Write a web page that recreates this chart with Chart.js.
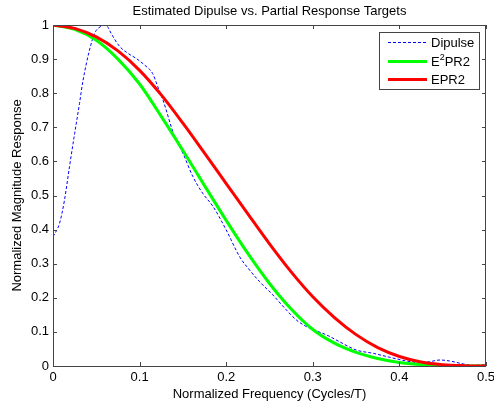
<!DOCTYPE html>
<html>
<head>
<meta charset="utf-8">
<script src="https://cdn.jsdelivr.net/npm/chart.js@4/dist/chart.umd.min.js"></script>
<style>
  body { margin: 0; background: #fff; }
  #wrap { width: 494px; height: 406px; }
</style>
</head>
<body>
<div id="wrap"><canvas id="response"></canvas></div>
<script>
// estimated dipulse at uneven steps
var dipulseFreq = [0, 0.0075, 0.0133, 0.019, 0.025, 0.0306, 0.0345, 0.042, 0.048, 0.0557, 0.0597, 0.063, 0.067, 0.077, 0.0865, 0.096, 0.106, 0.115, 0.121, 0.127, 0.1405, 0.15, 0.1616, 0.173, 0.185, 0.2, 0.2156, 0.227, 0.2387, 0.254, 0.2696, 0.281, 0.293, 0.304, 0.316, 0.331, 0.35, 0.37, 0.389, 0.408, 0.424, 0.435, 0.447, 0.458, 0.474, 0.485, 0.5];
var dipulseMag = [0.379, 0.418, 0.487, 0.584, 0.682, 0.77, 0.835, 0.925, 0.975, 0.997, 1.0, 0.995, 0.976, 0.937, 0.917, 0.902, 0.882, 0.858, 0.819, 0.78, 0.672, 0.624, 0.555, 0.506, 0.467, 0.399, 0.32, 0.2815, 0.247, 0.208, 0.164, 0.135, 0.115, 0.103, 0.091, 0.071, 0.047, 0.037, 0.0255, 0.0147, 0.01, 0.0127, 0.0176, 0.0147, 0.006, 0.002, 0.005];

// partial response targets, every 0.025 cycles/T
var targetFreq = [0, 0.025, 0.05, 0.075, 0.1, 0.125, 0.15, 0.175, 0.2, 0.225, 0.25, 0.275, 0.3, 0.325, 0.35, 0.375, 0.4, 0.425, 0.45, 0.475, 0.5];
var e2pr2Mag = [1, 0.987, 0.955, 0.9, 0.827, 0.732, 0.632, 0.529, 0.427, 0.33, 0.242, 0.167, 0.107, 0.067, 0.04, 0.022, 0.01, 0.004, 0.001, 0, 0];
var epr2Mag = [1, 0.99, 0.965, 0.924, 0.867, 0.795, 0.712, 0.624, 0.535, 0.446, 0.358, 0.276, 0.203, 0.142, 0.092, 0.054, 0.028, 0.012, 0.004, 0.001, 0];

var xTicks = [0, 0.1, 0.2, 0.3, 0.4, 0.5];
var yTicks = [0, 0.1, 0.2, 0.3, 0.4, 0.5, 0.6, 0.7, 0.8, 0.9, 1];

var titleText = 'Estimated Dipulse vs. Partial Response Targets';
var fontFamily = '"Liberation Sans", Arial, Helvetica, sans-serif';
var axisFont = { family: fontFamily, size: 13 };

function points(xs, ys) {
    return xs.map(function (x, i) { return { x: x, y: ys[i] }; });
}

// matlab style box with inward ticks on all four sides, title over the plot
var frame = {
    id: 'frame',
    afterDraw: function (chart) {
        var ctx = chart.ctx, a = chart.chartArea;
        var xs = chart.scales.x, ys = chart.scales.y;
        ctx.save();
        ctx.strokeStyle = '#444';
        ctx.lineWidth = 1;
        ctx.beginPath();
        xTicks.forEach(function (v) {
            var px = Math.round(xs.getPixelForValue(v)) + 0.5;
            ctx.moveTo(px, a.bottom); ctx.lineTo(px, a.bottom - 4);
            ctx.moveTo(px, a.top); ctx.lineTo(px, a.top + 4);
        });
        yTicks.forEach(function (v) {
            var py = Math.round(ys.getPixelForValue(v)) + 0.5;
            ctx.moveTo(a.left, py); ctx.lineTo(a.left + 4, py);
            ctx.moveTo(a.right, py); ctx.lineTo(a.right - 4, py);
        });
        ctx.stroke();
        ctx.strokeRect(Math.round(a.left) + 0.5, Math.round(a.top) + 0.5,
            Math.round(a.right - a.left) - 1, Math.round(a.bottom - a.top));

        ctx.fillStyle = '#000';
        ctx.font = '13px ' + fontFamily;
        ctx.textAlign = 'center';
        ctx.textBaseline = 'middle';
        ctx.fillText(titleText, (a.left + a.right) / 2, a.top - 14);
        ctx.restore();
    }
};

// legend box inside the top right corner
var boxLegend = {
    id: 'boxLegend',
    afterDraw: function (chart) {
        var ctx = chart.ctx, a = chart.chartArea;
        var x0 = Math.round(a.right) - 107, y0 = Math.round(a.top) + 7;
        var rows = [10.5, 29.5, 47.5];
        ctx.save();
        ctx.fillStyle = '#fff';
        ctx.fillRect(x0, y0, 100, 57);
        ctx.strokeStyle = '#444';
        ctx.lineWidth = 1;
        ctx.strokeRect(x0 + 0.5, y0 + 0.5, 100, 57);
        chart.data.datasets.forEach(function (ds, i) {
            var y = y0 + rows[i];
            ctx.strokeStyle = ds.borderColor;
            ctx.lineWidth = ds.borderWidth;
            ctx.setLineDash(ds.borderDash || []);
            ctx.beginPath();
            ctx.moveTo(x0 + 9, y); ctx.lineTo(x0 + 48, y);
            ctx.stroke();
            ctx.setLineDash([]);
            ctx.fillStyle = '#000';
            ctx.textBaseline = 'middle';
            var tx = x0 + 52;
            var parts = ds.label.split('²');
            ctx.font = '13px ' + fontFamily;
            ctx.fillText(parts[0], tx, y + 1);
            if (parts.length > 1) {
                tx += ctx.measureText(parts[0]).width;
                ctx.font = '9px ' + fontFamily;
                ctx.fillText('2', tx, y - 4);
                tx += ctx.measureText('2').width;
                ctx.font = '13px ' + fontFamily;
                ctx.fillText(parts[1], tx, y + 1);
            }
        });
        ctx.restore();
    }
};

new Chart(document.getElementById('response'), {
    type: 'line',
    data: {
        datasets: [{
            label: 'Dipulse',
            data: points(dipulseFreq, dipulseMag),
            borderColor: '#0000ff',
            borderWidth: 1,
            borderDash: [3, 2],
            pointRadius: 0,
            cubicInterpolationMode: 'monotone',
            order: 3
        }, {
            label: 'E²PR2',
            data: points(targetFreq, e2pr2Mag),
            borderColor: '#00ff00',
            borderWidth: 3,
            pointRadius: 0,
            cubicInterpolationMode: 'monotone',
            order: 2
        }, {
            label: 'EPR2',
            data: points(targetFreq, epr2Mag),
            borderColor: '#ff0000',
            borderWidth: 3,
            pointRadius: 0,
            cubicInterpolationMode: 'monotone',
            order: 1
        }]
    },
    options: {
        responsive: true,
        maintainAspectRatio: false,
        animation: false,
        layout: { padding: { left: 0, right: 8, top: 25, bottom: 0 } },
        plugins: {
            legend: { display: false },
            tooltip: { enabled: false },
            title: { display: false }
        },
        scales: {
            x: {
                type: 'linear',
                min: 0,
                max: 0.5,
                afterBuildTicks: function (s) { s.ticks = xTicks.map(function (v) { return { value: v }; }); },
                afterFit: function (s) { s.height = 40; s.paddingLeft = 0; s.paddingRight = 0; },
                grid: { display: false, drawTicks: false },
                border: { display: false },
                ticks: { padding: 4, maxRotation: 0, color: '#000', font: axisFont, callback: function (v) { return String(v); } },
                title: { display: true, text: 'Normalized Frequency (Cycles/T)', color: '#000', font: axisFont, padding: { top: 0, bottom: 4 } }
            },
            y: {
                min: 0,
                max: 1,
                afterBuildTicks: function (s) { s.ticks = yTicks.map(function (v) { return { value: v }; }); },
                afterFit: function (s) { s.width = 53; s.paddingTop = 0; s.paddingBottom = 0; },
                grid: { display: false, drawTicks: false },
                border: { display: false },
                ticks: { padding: 4, color: '#000', font: axisFont, callback: function (v) { return String(v); } },
                title: { display: true, text: 'Normalized Magnitude Response', color: '#000', font: axisFont, padding: { top: 10, bottom: 0 } }
            }
        }
    },
    plugins: [frame, boxLegend]
});
</script>
</body>
</html>
